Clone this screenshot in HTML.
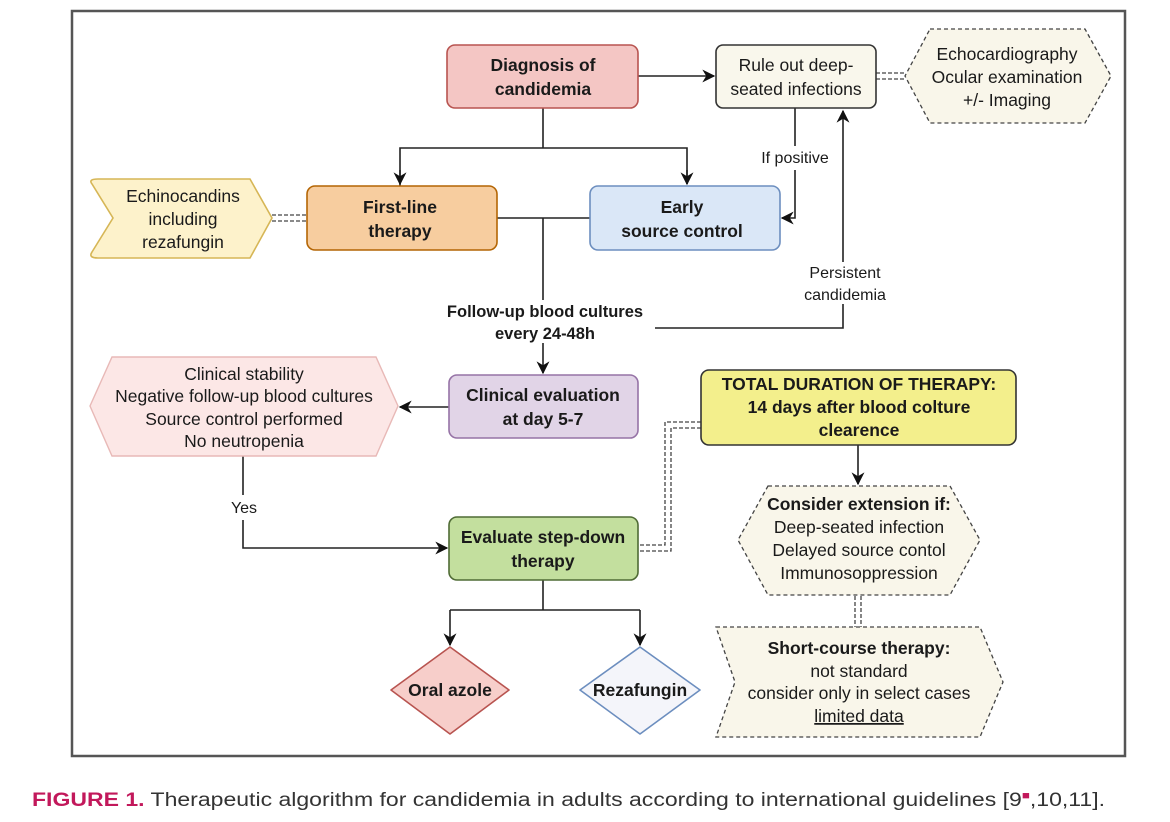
<!DOCTYPE html>
<html><head><meta charset="utf-8"><style>
html,body{margin:0;padding:0;background:#fff;width:1170px;height:822px;overflow:hidden}
svg{display:block}
text{font-family:"Liberation Sans",sans-serif;fill:#1a1a1a}
.b{font-weight:bold;font-size:17.5px}
.r{font-size:17.5px}
.s{font-size:16px}
</style></head><body>
<svg width="1170" height="822" viewBox="0 0 1170 822">
<defs>
<marker id="a" viewBox="0 0 10 10" refX="9" refY="5" markerWidth="13" markerHeight="13" orient="auto" markerUnits="userSpaceOnUse"><path d="M0,0 L10,5 L0,10 L3,5 Z" fill="#111"/></marker>
</defs>
<rect x="72" y="11" width="1053" height="745" fill="#fff" stroke="#555" stroke-width="2.5"/>

<g stroke="#222" stroke-width="1.6" fill="none">
<line x1="638" y1="76" x2="714" y2="76" marker-end="url(#a)"/>
<polyline points="543,108 543,148"/>
<polyline points="400,186 400,148 687,148 687,184" />
<line x1="400" y1="170" x2="400" y2="184" marker-end="url(#a)"/>
<line x1="687" y1="170" x2="687" y2="184" marker-end="url(#a)"/>
<line x1="497" y1="218" x2="590" y2="218"/>
<line x1="543" y1="218" x2="543" y2="300"/>
<line x1="543" y1="343" x2="543" y2="373" marker-end="url(#a)"/>
<polyline points="655,328 843,328 843,304"/>
<line x1="843" y1="262" x2="843" y2="111" marker-end="url(#a)"/>
<polyline points="795,108 795,146"/>
<polyline points="795,170 795,218 782,218" marker-end="url(#a)"/>
<line x1="449" y1="407" x2="400" y2="407" marker-end="url(#a)"/>
<polyline points="243,456 243,495"/>
<polyline points="243,520 243,548 447,548" marker-end="url(#a)"/>
<line x1="543" y1="580" x2="543" y2="610"/>
<polyline points="450,610 640,610"/>
<line x1="450" y1="610" x2="450" y2="645" marker-end="url(#a)"/>
<line x1="640" y1="610" x2="640" y2="645" marker-end="url(#a)"/>
<line x1="858" y1="445" x2="858" y2="484" marker-end="url(#a)"/>
</g>
<g stroke="#444" stroke-width="1.3" fill="none" stroke-dasharray="4,2">
<line x1="876" y1="73" x2="905" y2="73"/><line x1="876" y1="79" x2="905" y2="79"/>
<line x1="272" y1="215" x2="307" y2="215"/><line x1="272" y1="221" x2="307" y2="221"/>
<polyline points="701,422 665,422 665,545 638,545"/>
<polyline points="701,428 671,428 671,551 638,551"/>
<line x1="855" y1="596" x2="855" y2="627"/><line x1="861" y1="596" x2="861" y2="627"/>
</g>

<rect x="447" y="45" width="191" height="63" rx="8" fill="#f4c6c4" stroke="#b85450" stroke-width="1.6"/>
<text class="b" text-anchor="middle" x="543" y="71">Diagnosis of</text>
<text class="b" text-anchor="middle" x="543" y="95">candidemia</text>

<rect x="716" y="45" width="160" height="63" rx="7" fill="#f9f7ec" stroke="#333" stroke-width="1.6"/>
<text class="r" text-anchor="middle" x="796" y="71">Rule out deep-</text>
<text class="r" text-anchor="middle" x="796" y="95">seated infections</text>

<path d="M930,29 L1085,29 L1111,76 L1085,123 L930,123 L905,76 Z" fill="#f9f6ea" stroke="#444" stroke-width="1.3" stroke-dasharray="4,3"/>
<text class="r" text-anchor="middle" x="1007" y="60">Echocardiography</text>
<text class="r" text-anchor="middle" x="1007" y="83">Ocular examination</text>
<text class="r" text-anchor="middle" x="1007" y="106">+/- Imaging</text>

<path d="M98,179 L250,179 L272,218 L250,258 L98,258 Q88,258 92,252 L113,218 L92,184 Q88,179 98,179 Z" fill="#fdf2cb" stroke="#d6b656" stroke-width="1.6"/>
<text class="r" text-anchor="middle" x="183" y="202">Echinocandins</text>
<text class="r" text-anchor="middle" x="183" y="225">including</text>
<text class="r" text-anchor="middle" x="183" y="248">rezafungin</text>

<rect x="307" y="186" width="190" height="64" rx="8" fill="#f7cd9f" stroke="#b46504" stroke-width="1.6"/>
<text class="b" text-anchor="middle" x="400" y="213">First-line</text>
<text class="b" text-anchor="middle" x="400" y="237">therapy</text>

<rect x="590" y="186" width="190" height="64" rx="8" fill="#dae7f7" stroke="#6c8ebf" stroke-width="1.6"/>
<text class="b" text-anchor="middle" x="682" y="213">Early</text>
<text class="b" text-anchor="middle" x="682" y="237">source control</text>

<text class="s" text-anchor="middle" x="795" y="163">If positive</text>
<text class="s" text-anchor="middle" x="845" y="278">Persistent</text>
<text class="s" text-anchor="middle" x="845" y="300">candidemia</text>

<text font-size="16.5" font-weight="bold" text-anchor="middle" x="545" y="317">Follow-up blood cultures</text>
<text font-size="16.5" font-weight="bold" text-anchor="middle" x="545" y="339">every 24-48h</text>

<path d="M112,357 L376,357 L398,406 L376,456 L112,456 L90,406 Z" fill="#fce7e6" stroke="#e8b9b7" stroke-width="1.4"/>
<text class="r" text-anchor="middle" x="244" y="380">Clinical stability</text>
<text class="r" text-anchor="middle" x="244" y="402">Negative follow-up blood cultures</text>
<text class="r" text-anchor="middle" x="244" y="425">Source control performed</text>
<text class="r" text-anchor="middle" x="244" y="447">No neutropenia</text>

<rect x="449" y="375" width="189" height="63" rx="8" fill="#e1d4e7" stroke="#9673a6" stroke-width="1.6"/>
<text class="b" text-anchor="middle" x="543" y="401">Clinical evaluation</text>
<text class="b" text-anchor="middle" x="543" y="425">at day 5-7</text>

<text class="s" text-anchor="middle" x="244" y="513">Yes</text>

<rect x="449" y="517" width="189" height="63" rx="8" fill="#c3df9e" stroke="#4f6b35" stroke-width="1.6"/>
<text class="b" text-anchor="middle" x="543" y="543">Evaluate step-down</text>
<text class="b" text-anchor="middle" x="543" y="567">therapy</text>

<path d="M450,647 L509,690 L450,734 L391,690 Z" fill="#f7ceca" stroke="#b85450" stroke-width="1.6" stroke-linejoin="round"/>
<text class="b" text-anchor="middle" x="450" y="696">Oral azole</text>
<path d="M640,647 L700,690 L640,734 L580,690 Z" fill="#f4f5fa" stroke="#6c8ebf" stroke-width="1.6" stroke-linejoin="round"/>
<text class="b" text-anchor="middle" x="640" y="696">Rezafungin</text>

<rect x="701" y="370" width="315" height="75" rx="8" fill="#f3ef8c" stroke="#333" stroke-width="1.6"/>
<text class="b" text-anchor="middle" x="859" y="390">TOTAL DURATION OF THERAPY:</text>
<text class="b" text-anchor="middle" x="859" y="413">14 days after blood colture</text>
<text class="b" text-anchor="middle" x="859" y="436">clearence</text>

<path d="M768,486 L950,486 L980,540 L950,595 L768,595 L738,540 Z" fill="#f9f6ea" stroke="#444" stroke-width="1.3" stroke-dasharray="4,3"/>
<text class="b" text-anchor="middle" x="859" y="510">Consider extension if:</text>
<text class="r" text-anchor="middle" x="859" y="533">Deep-seated infection</text>
<text class="r" text-anchor="middle" x="859" y="556">Delayed source contol</text>
<text class="r" text-anchor="middle" x="859" y="579">Immunosoppression</text>

<path d="M716,627 L980,627 L1003,682 L980,737 L716,737 L735,682 Z" fill="#f9f6ea" stroke="#444" stroke-width="1.3" stroke-dasharray="4,3"/>
<text class="b" text-anchor="middle" x="859" y="654">Short-course therapy:</text>
<text class="r" text-anchor="middle" x="859" y="677">not standard</text>
<text class="r" text-anchor="middle" x="859" y="699">consider only in select cases</text>
<text class="r" text-anchor="middle" x="859" y="722" text-decoration="underline">limited data</text>

<text x="32" y="806" font-size="19" style="font-family:'Liberation Sans Narrow','Liberation Sans',sans-serif" textLength="1073" lengthAdjust="spacingAndGlyphs"><tspan font-weight="bold" style="fill:#c2185b">FIGURE 1.</tspan><tspan style="fill:#333"> Therapeutic algorithm for candidemia in adults according to international guidelines [9</tspan><tspan style="fill:#c2185b" font-size="11" dy="-7">■</tspan><tspan style="fill:#333" dy="7">,10,11].</tspan></text>
</svg>
</body></html>
